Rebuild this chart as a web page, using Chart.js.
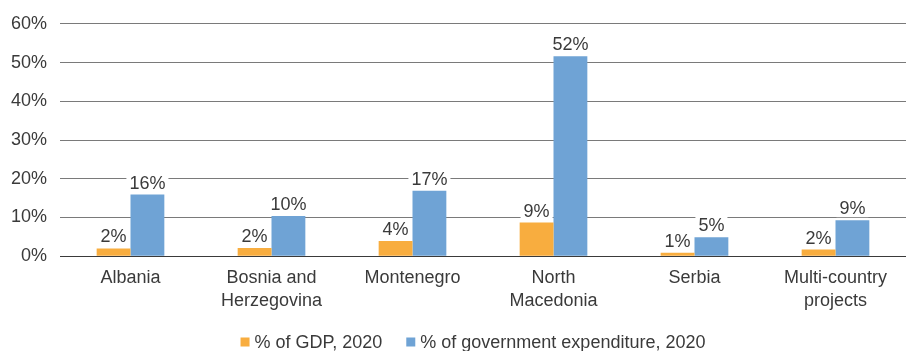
<!DOCTYPE html>
<html>
<head>
<meta charset="utf-8">
<script src="https://cdn.jsdelivr.net/npm/chart.js@4/dist/chart.umd.min.js"></script>
<style>
  html, body { margin: 0; padding: 0; background: #fff; }
  #wrap { width: 906px; height: 351px; position: relative; }
</style>
</head>
<body>
<div id="wrap"><canvas id="barChart"></canvas></div>
<script>
// Categories and series values (percent)
const countries = ['Albania', ['Bosnia and', 'Herzegovina'], 'Montenegro', ['North', 'Macedonia'], 'Serbia', ['Multi-country', 'projects']];
const gdpShare = [2.0, 2.1, 3.9, 8.7, 0.9, 1.7];
const govShare = [15.9, 10.4, 16.9, 51.6, 4.9, 9.3];
const yTicks = [0, 10, 20, 30, 40, 50, 60];

const textColor = '#3a3a3a';
const fontFamily = '"Liberation Sans", Arial, sans-serif';
const fontSize = 18;

// Value labels above each bar, on a white patch that hides the gridline
const valueLabels = {
    id: 'valueLabels',
    afterDatasetsDraw(chart) {
        const ctx = chart.ctx;
        ctx.save();
        ctx.font = fontSize + 'px ' + fontFamily;
        ctx.textAlign = 'center';
        ctx.textBaseline = 'alphabetic';
        chart.data.datasets.forEach((ds, i) => {
            chart.getDatasetMeta(i).data.forEach((bar, j) => {
                const text = Math.round(ds.data[j]) + '%';
                const w = ctx.measureText(text).width;
                const base = bar.y - 6;
                ctx.fillStyle = '#fff';
                ctx.fillRect(bar.x - w / 2 - 3, base - 16, w + 6, 19);
                ctx.fillStyle = textColor;
                ctx.fillText(text, bar.x, base);
            });
        });
        ctx.restore();
    }
};

// Legend row drawn under the axis labels
const bottomLegend = {
    id: 'bottomLegend',
    afterDraw(chart) {
        const ctx = chart.ctx;
        const box = 9, gapText = 5, gapItem = 24;
        ctx.save();
        ctx.font = fontSize + 'px ' + fontFamily;
        ctx.textBaseline = 'middle';
        ctx.textAlign = 'left';
        const items = chart.data.datasets.map(ds => ({
            text: ds.label,
            color: ds.backgroundColor,
            w: box + gapText + ctx.measureText(ds.label).width
        }));
        const total = items.reduce((s, it) => s + it.w, 0) + gapItem * (items.length - 1);
        const area = chart.chartArea;
        let x = (area.left + area.right) / 2 - 10 - total / 2;
        const y = chart.height - 9;
        items.forEach(it => {
            ctx.fillStyle = it.color;
            ctx.fillRect(x, y - box / 2, box, box);
            ctx.fillStyle = textColor;
            ctx.fillText(it.text, x + box + gapText, y + 1);
            x += it.w + gapItem;
        });
        ctx.restore();
    }
};

const barCtx = document.getElementById('barChart').getContext('2d');
const barChart = new Chart(barCtx, {
    type: 'bar',
    data: {
        labels: countries,
        datasets: [{
            label: '% of GDP, 2020',
            data: gdpShare,
            backgroundColor: '#F8AD3F'
        }, {
            label: '% of government expenditure, 2020',
            data: govShare,
            backgroundColor: '#6FA3D5'
        }]
    },
    options: {
        responsive: true,
        maintainAspectRatio: false,
        animation: false,
        layout: { padding: { left: 0, right: 0, top: 11, bottom: 28 } },
        datasets: { bar: { categoryPercentage: 0.48, barPercentage: 1 } },
        plugins: {
            tooltip: { enabled: false },
            legend: { display: false }
        },
        scales: {
            x: {
                grid: { display: false, drawTicks: false },
                border: { display: false },
                ticks: {
                    color: textColor,
                    padding: 10,
                    maxRotation: 0,
                    autoSkip: false,
                    font: { size: fontSize, family: fontFamily, lineHeight: 1.3 }
                }
            },
            y: {
                min: 0,
                max: 60,
                afterBuildTicks(axis) {
                    axis.ticks = yTicks.map(v => ({ value: v }));
                },
                afterFit(axis) {
                    axis.width = 60;
                },
                grid: {
                    drawTicks: false,
                    color: ctx => ctx.tick && ctx.tick.value === 0 ? '#3a3a3a' : '#7a7a7a'
                },
                border: { display: false },
                ticks: {
                    color: textColor,
                    padding: 13,
                    font: { size: fontSize, family: fontFamily },
                    callback: v => v + '%'
                }
            }
        }
    },
    plugins: [valueLabels, bottomLegend]
});
</script>
</body>
</html>
